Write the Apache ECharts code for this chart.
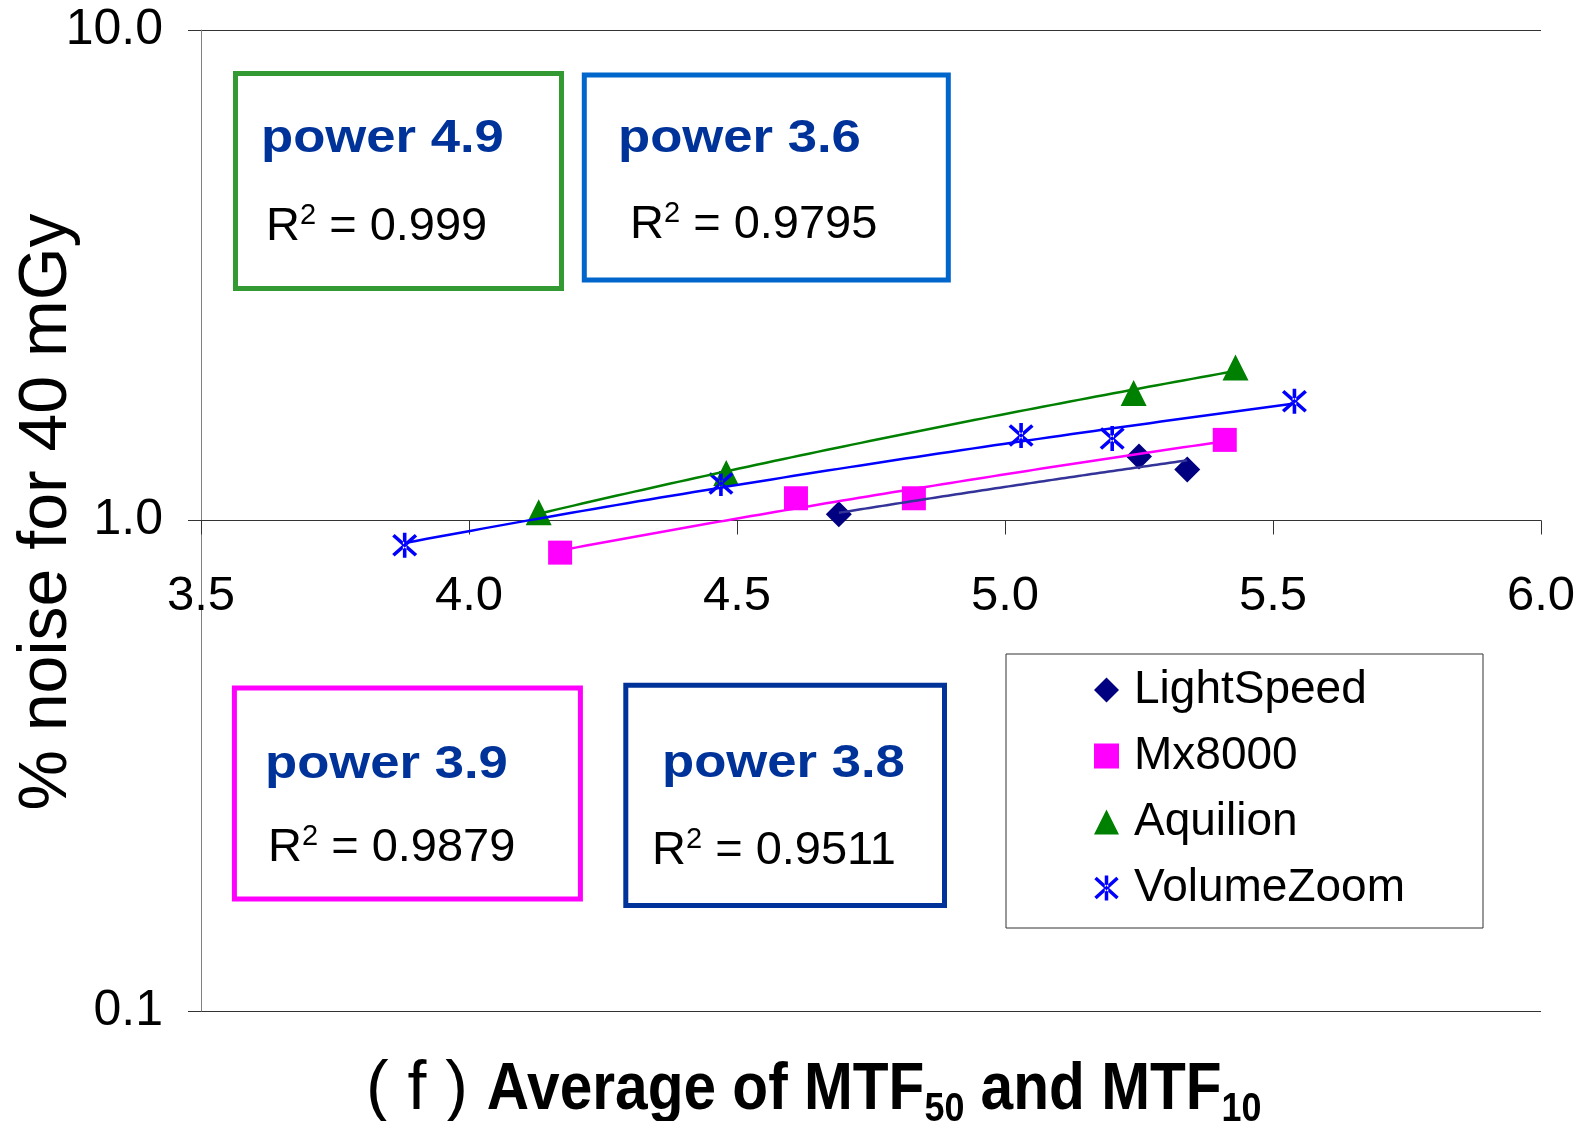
<!DOCTYPE html>
<html><head><meta charset="utf-8">
<script src="https://cdn.jsdelivr.net/npm/echarts@6/dist/echarts.min.js"></script>
<style>html,body{margin:0;padding:0;background:#fff}#c{width:1581px;height:1121px}</style>
</head><body><div id="c"></div>
<script>
// ---------- data ----------
const seriesNames = ['LightSpeed', 'Mx8000', 'Aquilion', 'VolumeZoom'];
const lightSpeedX = [4.69, 5.25, 5.34];
const lightSpeedY = [1.03, 1.35, 1.27];
const mx8000X = [4.17, 4.61, 4.83, 5.41];
const mx8000Y = [0.86, 1.11, 1.11, 1.46];
const aquilionX = [4.13, 4.48, 5.24, 5.43];
const aquilionY = [1.04, 1.25, 1.82, 2.05];
const volumeZoomX = [3.88, 4.47, 5.03, 5.20, 5.54];
const volumeZoomY = [0.89, 1.19, 1.49, 1.47, 1.75];
const xTicks = [3.5, 4.0, 4.5, 5.0, 5.5, 6.0];
const yTicks = [0.1, 1.0, 10.0];
const boxPower = ['power 4.9', 'power 3.6', 'power 3.9', 'power 3.8'];
const boxR2 = ['0.999', '0.9795', '0.9879', '0.9511'];
const xTitleParts = ['( f ) ', 'Average of MTF', '50', ' and MTF', '10'];
const yTitle = '% noise for 40 mGy';

// ---------- styles ----------
const FF = '"Liberation Sans", Arial, Helvetica, sans-serif';
const markerColors = ['#000080', '#FF00FF', '#008000', '#0000FF'];
const fitColors = ['#333399', '#FF00FF', '#008000', '#0000FF'];
const starPath = 'path://M43 0L57 0L57 100L43 100Z M1.29 15.18L89.29 95.18L98.71 84.82L10.71 4.82Z M10.71 95.18L98.71 15.18L89.29 4.82L1.29 84.82Z';
const symbols = ['diamond', 'rect', 'triangle', starPath];
const symbolSizes = [26, 24, 26, 25];

const GRID = {left: 201, right: 40, top: 30, bottom: 110};
const gridH = 1121 - GRID.top - GRID.bottom;

const xs = [lightSpeedX, mx8000X, aquilionX, volumeZoomX];
const ys = [lightSpeedY, mx8000Y, aquilionY, volumeZoomY];

function powerFit(x, y) {
  const n = x.length;
  let sx = 0, sy = 0, sxx = 0, sxy = 0;
  for (let i = 0; i < n; i++) {
    const lx = Math.log(x[i]), ly = Math.log(y[i]);
    sx += lx; sy += ly; sxx += lx * lx; sxy += lx * ly;
  }
  const b = (n * sxy - sx * sy) / (n * sxx - sx * sx);
  const lnA = (sy - b * sx) / n;
  const xmin = Math.min(...x), xmax = Math.max(...x);
  const pts = [];
  const N = 80;
  for (let i = 0; i <= N; i++) {
    const xv = xmin + (xmax - xmin) * i / N;
    pts.push([xv, Math.exp(lnA) * Math.pow(xv, b)]);
  }
  return pts;
}

const series = [];
seriesNames.forEach((name, i) => {
  series.push({
    name: name, type: 'scatter',
    data: xs[i].map((v, k) => [v, ys[i][k]]),
    symbol: symbols[i], symbolSize: symbolSizes[i],
    itemStyle: {color: markerColors[i], opacity: 1},
    z: 2
  });
});
seriesNames.forEach((name, i) => {
  series.push({
    name: name + ' fit', type: 'line',
    data: powerFit(xs[i], ys[i]),
    showSymbol: false, symbol: 'none', smooth: false,
    lineStyle: {color: fitColors[i], width: 2.5},
    itemStyle: {color: fitColors[i]},
    z: 3, silent: true
  });
});

// ---------- text helpers ----------
const mctx = document.createElement('canvas').getContext('2d');
function tw(text, size, weight) {
  mctx.font = (weight || 'normal') + ' ' + size + 'px ' + FF;
  return mctx.measureText(text).width;
}
function run(x0, baseline, pieces) {
  let x = x0;
  const els = [];
  pieces.forEach(p => {
    const sx = p.sx || 1;
    const w = tw(p.text, p.size, p.weight) * sx;
    els.push({
      type: 'text', x: x, y: baseline + (p.dy || 0) - 0.3465 * p.size,
      scaleX: sx, z: 100,
      style: {text: p.text, fill: p.color || '#000', fontSize: p.size,
        fontWeight: p.weight || 'normal', fontFamily: FF,
        align: 'left', verticalAlign: 'middle', textAlign: 'left', textVerticalAlign: 'middle'}
    });
    x += w;
  });
  return els;
}

const boxes = [
  {r: [235.5, 73.5, 326, 215], color: '#339933', px: 261, pb: 155, rx: 266, rb: 243},
  {r: [584.3, 75.1, 364, 205], color: '#0066CC', px: 618, pb: 155, rx: 630, rb: 241},
  {r: [234.4, 688.1, 346, 211], color: '#FF00FF', px: 265, pb: 781, rx: 268, rb: 864},
  {r: [625.8, 685.2, 318.7, 220.3], color: '#003399', px: 662, pb: 780, rx: 652, rb: 867}
];
const graphics = [];
boxes.forEach((b, i) => {
  graphics.push({type: 'rect', shape: {x: b.r[0], y: b.r[1], width: b.r[2], height: b.r[3]},
    style: {fill: 'none', stroke: b.color, lineWidth: 5}, z: 90});
  graphics.push(...run(b.px, b.pb, [{text: boxPower[i], size: 47, weight: 'bold', color: '#003399', sx: 1.12}]));
  graphics.push(...run(b.rx, b.rb, [
    {text: 'R', size: 47},
    {text: '2', size: 29, dy: -17},
    {text: ' = ' + boxR2[i], size: 47}
  ]));
});
// x-axis title
graphics.push(...run(366, 1114, [
  {text: xTitleParts[0], size: 68},
  {text: xTitleParts[1], size: 67, weight: 'bold', sx: 0.875},
  {text: xTitleParts[2], size: 41, weight: 'bold', sx: 0.875, dy: 10},
  {text: xTitleParts[3], size: 67, weight: 'bold', sx: 0.875},
  {text: xTitleParts[4], size: 41, weight: 'bold', sx: 0.875, dy: 10}
]));
// y-axis title
graphics.push({
  type: 'text', x: 47, y: 512, rotation: Math.PI / 2, z: 100,
  style: {text: yTitle, fill: '#000', fontSize: 68, fontFamily: FF,
    align: 'center', verticalAlign: 'middle', textAlign: 'center', textVerticalAlign: 'middle'}
});

const chart = echarts.init(document.getElementById('c'), null, {renderer: 'canvas'});
chart.setOption({
  animation: false,
  backgroundColor: '#fff',
  grid: GRID,
  legend: {
    data: seriesNames, orient: 'vertical', left: 1006, top: 654,
    itemWidth: 25, itemHeight: 25, itemGap: 20,
    padding: [13, 78, 17, 88],
    borderColor: '#333', borderWidth: 1, backgroundColor: '#fff',
    textStyle: {fontSize: 46, color: '#000', fontFamily: FF, lineHeight: 46, padding: [0, 0, 0, 10]},
    selectedMode: false
  },
  xAxis: {
    type: 'value', min: xTicks[0], max: xTicks[xTicks.length - 1], interval: 0.5,
    offset: -gridH / 2,
    axisLine: {show: true, lineStyle: {color: '#333', width: 1}},
    axisTick: {show: true, length: 14, lineStyle: {color: '#333'}},
    axisLabel: {fontSize: 49, color: '#000', fontFamily: FF, margin: 51,
      formatter: v => Number(v).toFixed(1)},
    splitLine: {show: false}
  },
  yAxis: {
    type: 'log', logBase: 10, min: yTicks[0], max: yTicks[yTicks.length - 1],
    axisLine: {show: true, lineStyle: {color: '#808080', width: 1}},
    axisTick: {show: true, length: 13, lineStyle: {color: '#333'}},
    axisLabel: {fontSize: 50, color: '#000', fontFamily: FF, margin: 38,
      formatter: v => Number(v).toFixed(1)},
    splitLine: {show: true, lineStyle: {color: '#333', width: 1}},
    minorTick: {show: false}, minorSplitLine: {show: false}
  },
  series: series,
  graphic: graphics
});
</script>
</body></html>
